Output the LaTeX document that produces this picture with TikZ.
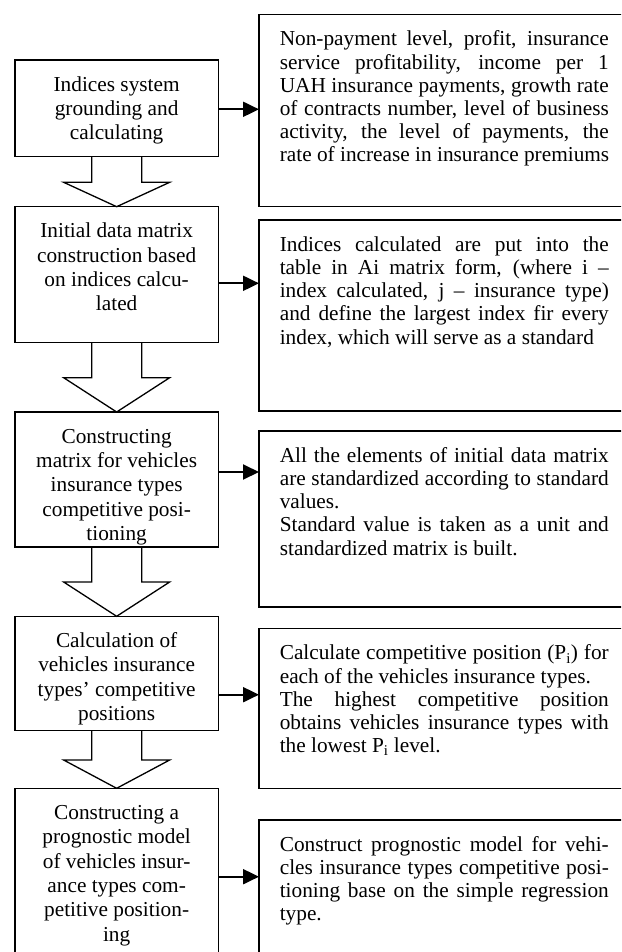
\documentclass[tikz,border=0pt]{standalone}
\usepackage{fontspec}
\setmainfont{Liberation Serif}
\usetikzlibrary{arrows.meta,calc}
\newcommand{\justline}[1]{\makebox[329pt][s]{#1}}
\newcommand{\hollowarrow}[3]{%
  \draw[hollowarr] ($(#1.south)+(-25,0)$) -- ($(#1.south)+(-25,#3)$) -- ($(#1.south)+(-53,#3)$) -- (#2.north) -- ($(#1.south)+(53,#3)$) -- ($(#1.south)+(25,#3)$) -- ($(#1.south)+(25,0)$);}
\begin{document}
\begin{tikzpicture}[x=1pt,y=-1pt,
  box/.style={draw, line width=1.4pt, inner sep=0pt, outer sep=0pt, anchor=north west},
  ltext/.style={align=center, anchor=north, inner sep=0pt, font=\fontsize{21.3}{24.3}\selectfont},
  rtext/.style={align=left, anchor=north west, inner sep=0pt, font=\fontsize{21.3}{23.2}\selectfont},
  conn/.style={line width=2pt, -{Triangle[length=16pt,width=15pt]}},
  hollowarr/.style={line width=1.3pt, line join=miter}]
\useasboundingbox (0,0) rectangle (621,952);
\fill[white] (0,0) rectangle (621,952);
\clip (0,0) rectangle (621,952);
% left boxes
\node[box, minimum width=203.3, minimum height=96.7] (l1) at (15,60) {};
\node[box, minimum width=203.3, minimum height=136] (l2) at (15,206.7) {};
\node[box, minimum width=203.3, minimum height=135] (l3) at (15,412) {};
\node[box, minimum width=203.3, minimum height=114.4] (l4) at (15,616.3) {};
\node[box, minimum width=203.3, minimum height=191.7] (l5) at (15,788.3) {};
% right boxes
\node[box, minimum width=381, minimum height=192] (r1) at (259,14.7) {};
\node[box, minimum width=381, minimum height=191] (r2) at (259,220) {};
\node[box, minimum width=381, minimum height=176] (r3) at (259,431) {};
\node[box, minimum width=381, minimum height=159.6] (r4) at (259,628.7) {};
\node[box, minimum width=381, minimum height=170] (r5) at (259,820) {};
% left texts
\node[ltext] (t1) at ($(l1.north)+(0,14)$) {\strut Indices system\\grounding and\\calculating};
\node[ltext] (t2) at ($(l2.north)+(0,14)$) {\strut Initial data matrix\\construction based\\on indices calcu-\\lated};
\node[ltext] (t3) at ($(l3.north)+(0,14)$) {\strut Constructing\\matrix for vehicles\\insurance types\\competitive posi-\\tioning};
\node[ltext] (t4) at ($(l4.north)+(0,14)$) {\strut Calculation of\\vehicles insurance\\types’ competitive\\positions};
\node[ltext] (t5) at ($(l5.north)+(0,14)$) {\strut Constructing a\\prognostic model\\of vehicles insur-\\ance types com-\\petitive position-\\ing};
% right texts
\node[rtext] (s1) at ($(r1.north west)+(20.6,14.8)$) {\strut\justline{Non-payment level, profit, insurance}\\
\justline{service profitability, income per 1}\\
\justline{UAH insurance payments, growth rate}\\
\justline{of contracts number, level of business}\\
\justline{activity, the level of payments, the}\\
rate of increase in insurance premiums};
\node[rtext] (s2) at ($(r2.north west)+(20.6,14.8)$) {\strut\justline{Indices calculated are put into the}\\
\justline{table in Ai matrix form, (where i --}\\
\justline{index calculated, j -- insurance type)}\\
\justline{and define the largest index fir every}\\
index, which will serve as a standard};
\node[rtext] (s3) at ($(r3.north west)+(20.6,14.8)$) {\strut\justline{All the elements of initial data matrix}\\
\justline{are standardized according to standard}\\
values.\\
\justline{Standard value is taken as a unit and}\\
standardized matrix is built.};
\node[rtext] (s4) at ($(r4.north west)+(20.6,14.8)$) {\strut\justline{Calculate competitive position (P\textsubscript{i}) for}\\
each of the vehicles insurance types.\\
\justline{The highest competitive position}\\
\justline{obtains vehicles insurance types with}\\
the lowest P\textsubscript{i} level.};
\node[rtext] (s5) at ($(r5.north west)+(20.6,14.8)$) {\strut\justline{Construct prognostic model for vehi-}\\
\justline{cles insurance types competitive posi-}\\
\justline{tioning base on the simple regression}\\
type.};
% connector heights
\coordinate (a1) at (0,109.3);
\coordinate (a2) at (0,283.3);
\coordinate (a3) at (0,472);
\coordinate (a4) at (0,694.7);
\coordinate (a5) at (0,876.7);
\draw[conn] (l1.east |- a1) -- (r1.west |- a1);
\draw[conn] (l2.east |- a2) -- (r2.west |- a2);
\draw[conn] (l3.east |- a3) -- (r3.west |- a3);
\draw[conn] (l4.east |- a4) -- (r4.west |- a4);
\draw[conn] (l5.east |- a5) -- (r5.west |- a5);
% hollow arrows
\hollowarrow{l1}{l2}{25.6}
\hollowarrow{l2}{l3}{35}
\hollowarrow{l3}{l4}{35}
\hollowarrow{l4}{l5}{29.3}
\end{tikzpicture}
\end{document}
